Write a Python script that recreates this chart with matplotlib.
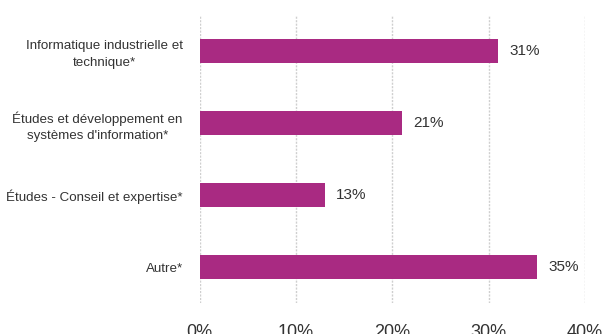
import matplotlib
matplotlib.use("Agg")
import matplotlib.pyplot as plt
from matplotlib.ticker import PercentFormatter

plt.rcParams['font.family'] = ['Liberation Sans Narrow', 'Liberation Sans', 'DejaVu Sans']

# data
categories = ["Informatique industrielle et\ntechnique*",
              "Études et développement en\nsystèmes d'information*",
              "Études - Conseil et expertise*",
              "Autre*"]
values = [31, 21, 13, 35]
ticks = [0, 10, 20, 30, 40]

BAR_COLOR = "#A92A82"
TEXT_COLOR = "#333333"

fig = plt.figure(figsize=(6.06, 3.34), dpi=100)
ax = fig.add_axes([199.5 / 606, 1 - 303 / 334, (585 - 199.5) / 606, 288 / 334])

pos = list(range(len(categories)))
ax.barh(pos, values, height=0.32, color=BAR_COLOR, zorder=3)
for p, v in zip(pos, values):
    ax.text(v + 1.2, p, "%d%%" % v, va="center", ha="left",
            fontsize=11, color=TEXT_COLOR)

ax.set_xlim(0, 40)
ax.set_ylim(3.5, -0.5)
ax.set_xticks(ticks)
ax.xaxis.set_major_formatter(PercentFormatter(decimals=0))
ax.set_yticks(pos)
ax.set_yticklabels(categories, fontsize=9.6, color=TEXT_COLOR, linespacing=1.45,
                   multialignment="center")
ax.tick_params(axis="y", length=0, pad=12)
ax.tick_params(axis="x", length=0, pad=15, labelsize=13, labelcolor=TEXT_COLOR)
ax.grid(axis="x", color="#cfcfcf", linestyle=(0, (1.5, 1)), linewidth=1, zorder=0)
for s in ax.spines.values():
    s.set_visible(False)

fig.savefig("out.png", dpi=100)
